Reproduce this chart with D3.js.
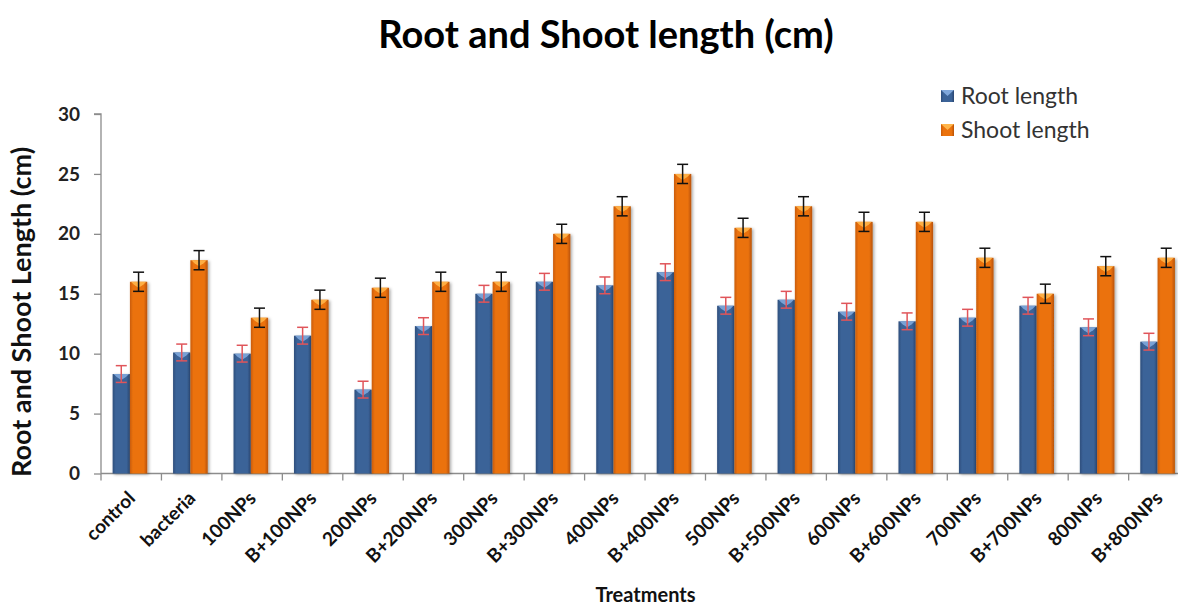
<!DOCTYPE html>
<html><head><meta charset="utf-8">
<script src="https://cdn.jsdelivr.net/npm/d3@7/dist/d3.min.js"></script>
<style>
body{margin:0;background:#fff;}
svg{display:block;font-family:Lato,"Open Sans",sans-serif;}
</style></head>
<body><svg id="chart" width="1178" height="607"></svg>
<script>
const categories = ["control","bacteria","100NPs","B+100NPs","200NPs","B+200NPs","300NPs","B+300NPs","400NPs","B+400NPs","500NPs","B+500NPs","600NPs","B+600NPs","700NPs","B+700NPs","800NPs","B+800NPs"];
const rootLength  = [8.3,10.1,10.0,11.5,7.0,12.3,15.0,16.0,15.7,16.8,14.0,14.5,13.5,12.7,13.0,14.0,12.2,11.0];
const rootError   = [0.7,0.7,0.7,0.7,0.7,0.7,0.7,0.7,0.7,0.7,0.7,0.7,0.7,0.7,0.7,0.7,0.7,0.7];
const shootLength = [16.0,17.8,13.0,14.5,15.5,16.0,16.0,20.0,22.3,25.0,20.5,22.3,21.0,21.0,18.0,15.0,17.3,18.0];
const shootError  = [0.8,0.8,0.8,0.8,0.8,0.8,0.8,0.8,0.8,0.8,0.8,0.8,0.8,0.8,0.8,0.8,0.8,0.8];
const yTicks = [0,5,10,15,20,25,30];
const seriesNames = ["Root length","Shoot length"];

const svg = d3.select("#chart");
const plotLeft = 101, plotBottom = 473.5, plotTop = 114;
const step = 60.45;
const x = d3.scaleBand().domain(categories).range([plotLeft, plotLeft + step*categories.length]).paddingInner(0).paddingOuter(0);
const y = d3.scaleLinear().domain([0,30]).range([plotBottom, plotTop]);
const bw = 17.3;

const defs = svg.append("defs");
function hgrad(id, c0, c1, c2){
  const g = defs.append("linearGradient").attr("id",id).attr("x1","0").attr("x2","1").attr("y1","0").attr("y2","0");
  g.append("stop").attr("offset","0").attr("stop-color",c0);
  g.append("stop").attr("offset","0.18").attr("stop-color",c1);
  g.append("stop").attr("offset","0.8").attr("stop-color",c1);
  g.append("stop").attr("offset","1").attr("stop-color",c2);
}
hgrad("gBlue","#2e4e7c","#3b6398","#2a4670");
hgrad("gOrange","#c95c08","#eb720c","#b85206");
const f = defs.append("filter").attr("id","shadow").attr("x","-30%").attr("y","-10%").attr("width","160%").attr("height","130%");
f.append("feDropShadow").attr("dx",1.5).attr("dy",1).attr("stdDeviation",1.5).attr("flood-color","#000").attr("flood-opacity",0.35);

// title
svg.append("text").attr("x",606).attr("y",48).attr("text-anchor","middle")
  .attr("font-size",38).attr("font-weight","bold").attr("fill","#000").text("Root and Shoot length (cm)");

// y axis
const yAxisG = svg.append("g").attr("transform",`translate(${plotLeft},0)`)
  .call(d3.axisLeft(y).tickValues(yTicks).tickSize(7).tickPadding(14));
yAxisG.select(".domain").attr("stroke","#8c8c8c").attr("stroke-width",1.3).attr("d",`M-7,${plotTop}H0V${plotBottom}`);
yAxisG.selectAll(".tick line").attr("stroke","#8c8c8c").attr("stroke-width",1.3);
yAxisG.selectAll(".tick text").attr("font-size",19).attr("font-weight","bold").attr("fill","#222").attr("font-family","Lato,sans-serif");

// x axis
const xAxisG = svg.append("g").attr("transform",`translate(0,${plotBottom})`);
xAxisG.append("line").attr("x1",plotLeft).attr("x2",1178).attr("y1",0).attr("y2",0).attr("stroke","#8c8c8c").attr("stroke-width",1.3);
xAxisG.selectAll("line.tk").data(categories).enter().append("line").attr("class","tk")
  .attr("x1",d=>x(d)).attr("x2",d=>x(d)).attr("y1",0).attr("y2",7).attr("stroke","#8c8c8c").attr("stroke-width",1.3);
xAxisG.selectAll("text.lbl").data(categories).enter().append("text").attr("class","lbl")
  .attr("transform",d=>`translate(${x(d)+x.bandwidth()/2+5},${26}) rotate(-45)`)
  .attr("text-anchor","end")
  .attr("font-size",19).attr("font-weight","bold").attr("fill","#111").text(d=>d);

// axis titles
svg.append("text").attr("transform",`translate(31,312) rotate(-90)`).attr("text-anchor","middle")
  .attr("font-size",27).attr("font-weight","bold").attr("fill","#111").text("Root and Shoot Length (cm)");
svg.append("text").attr("x",645.5).attr("y",602).attr("text-anchor","middle")
  .attr("font-size",20).attr("font-weight","bold").attr("fill","#111").text("Treatments");

// bars
const cx = d => x(d) + x.bandwidth()/2 - 1.3;
const series = [
  {vals: rootLength, err: rootError, fill:"url(#gBlue)", bevel:"#7fa7db", errColor:"#e0555a", off:-bw},
  {vals: shootLength, err: shootError, fill:"url(#gOrange)", bevel:"#ffb54a", errColor:"#111", off:0}
];
series.forEach((s,si)=>{
  const g = svg.append("g");
  const data = categories.map((c,i)=>({c, v:s.vals[i], e:s.err[i]}));
  g.selectAll("rect").data(data).enter().append("rect")
    .attr("x",d=>cx(d.c)+s.off).attr("width",bw)
    .attr("y",d=>y(d.v)).attr("height",d=>y(0)-y(d.v))
    .attr("fill",s.fill).attr("filter","url(#shadow)");
  g.selectAll("path.bev").data(data).enter().append("path").attr("class","bev")
    .attr("d",d=>{const x0=cx(d.c)+s.off, y0=y(d.v);
      return `M${x0+1},${y0}H${x0+bw-1}L${x0+bw-4},${y0+3}L${x0+bw/2},${y0+6}L${x0+4},${y0+3}Z`;})
    .attr("fill",s.bevel).attr("opacity",0.9);
  const eg = g.selectAll("g.err").data(data).enter().append("g").attr("class","err")
    .attr("stroke",s.errColor).attr("stroke-width",1.5);
  eg.append("line").attr("x1",d=>cx(d.c)+s.off+bw/2).attr("x2",d=>cx(d.c)+s.off+bw/2)
    .attr("y1",d=>y(d.v+d.e)).attr("y2",d=>y(d.v-d.e));
  eg.append("line").attr("x1",d=>cx(d.c)+s.off+bw/2-5.5).attr("x2",d=>cx(d.c)+s.off+bw/2+5.5)
    .attr("y1",d=>y(d.v+d.e)).attr("y2",d=>y(d.v+d.e));
  eg.append("line").attr("x1",d=>cx(d.c)+s.off+bw/2-5.5).attr("x2",d=>cx(d.c)+s.off+bw/2+5.5)
    .attr("y1",d=>y(d.v-d.e)).attr("y2",d=>y(d.v-d.e));
});

// legend
const leg = svg.append("g");
const legColors = [["url(#gBlue)","#7fa7db"],["url(#gOrange)","#ffb54a"]];
seriesNames.forEach((n,i)=>{
  const yy = 90 + i*34;
  leg.append("rect").attr("x",941).attr("y",yy).attr("width",13).attr("height",12).attr("fill",legColors[i][0]);
  leg.append("path").attr("d",`M941,${yy}H954L947.5,${yy+6}Z`).attr("fill",legColors[i][1]);
  leg.append("text").attr("x",961).attr("y",yy+13.5).attr("font-size",23).attr("fill","#333")
    .attr("font-family","Lato,sans-serif").text(n);
});
</script></body></html>
